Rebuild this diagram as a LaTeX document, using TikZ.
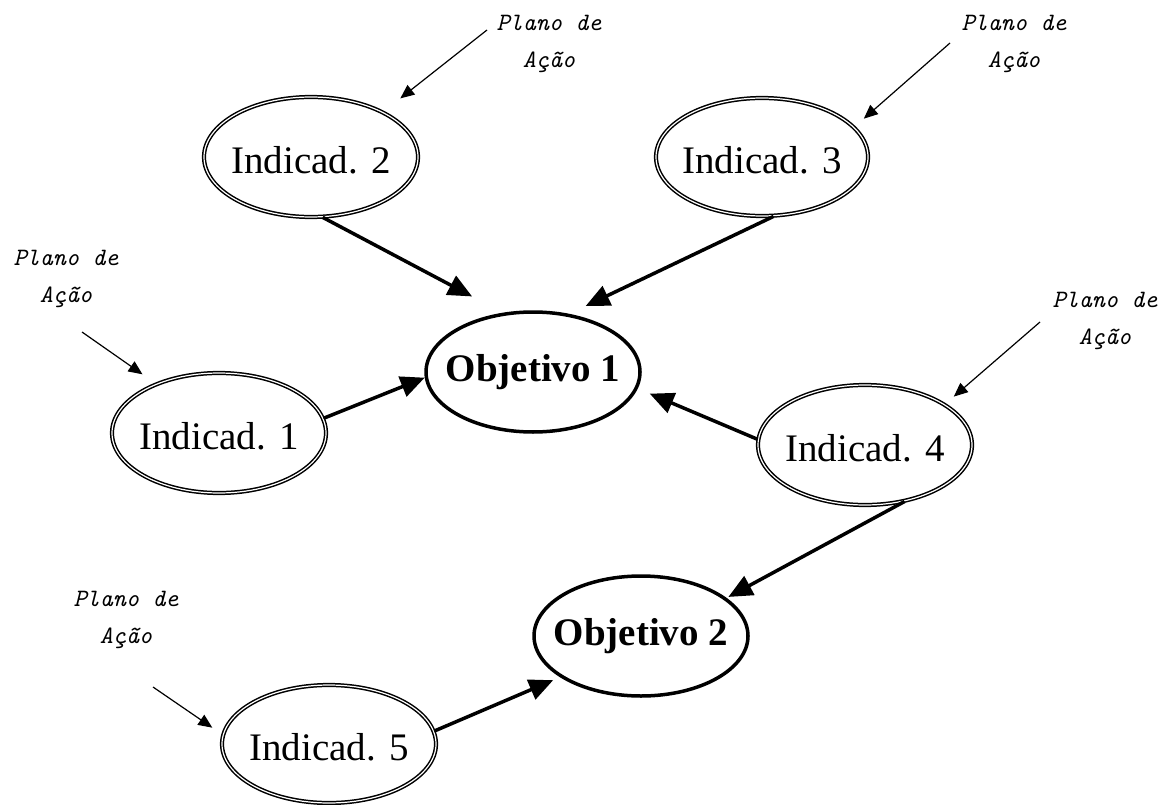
\documentclass[tikz,border=0pt]{standalone}
\usepackage{fontspec}
\setmainfont{Liberation Serif}
\usetikzlibrary{arrows.meta,shapes.geometric}
\begin{document}
\begin{tikzpicture}[x=1pt,y=-1pt,
  indic/.style={ellipse, draw, line width=1.5pt, double=white, double distance=1.2pt,
    inner sep=0pt, minimum width=214pt, minimum height=120pt},
  obj/.style={ellipse, draw, line width=3.5pt, inner sep=0pt,
    minimum width=214pt, minimum height=120pt},
  itext/.style={font=\fontsize{39}{44}\selectfont, inner sep=0pt},
  otext/.style={font=\fontsize{39}{44}\selectfont\bfseries, inner sep=0pt},
  plano/.style={align=center, inner sep=0pt,
    font=\fontsize{25}{37}\selectfont\ttfamily\itshape},
  big/.style={line width=3.5pt, -{Triangle[length=24pt,width=21pt]}},
  thin/.style={line width=1.2pt, -{Triangle[length=14pt,width=12pt]}}
]
\useasboundingbox (0,0) rectangle (1169,805);

% goals
\node[obj] (o1) at (533,372) {};
\node[otext] (o1t) at (o1) {Objetivo 1};
\node[obj] (o2) at (641,636) {};
\node[otext] (o2t) at (o2) {Objetivo 2};

% indicators
\node[indic] (i1) at (219,433) {};
\node[itext] (i1t) at ([yshift=-3pt]i1.center) {Indicad. 1};
\node[indic] (i2) at (311,157) {};
\node[itext] (i2t) at ([yshift=-3pt]i2.center) {Indicad. 2};
\node[indic, minimum width=212pt, minimum height=118pt] (i3) at (762,157) {};
\node[itext] (i3t) at ([yshift=-3pt]i3.center) {Indicad. 3};
\node[indic] (i4) at (865,445) {};
\node[itext] (i4t) at ([yshift=-3pt]i4.center) {Indicad. 4};
\node[indic, minimum height=118pt] (i5) at (329,744) {};
\node[itext] (i5t) at ([yshift=-3pt]i5.center) {Indicad. 5};

% action plan labels
\node[plano] (p1) at (66,279) {Plano de\\Ação};
\node[plano] (p2) at (549,44) {Plano de\\Ação};
\node[plano] (p3) at (1014,44) {Plano de\\Ação};
\node[plano] (p4) at (1105,321) {Plano de\\Ação};
\node[plano] (p5) at (126,620) {Plano de\\Ação};

\coordinate (p1s) at (82,332);
\coordinate (p2s) at (487,30);
\coordinate (p3s) at (950,43);
\coordinate (p4s) at (1040,322);
\coordinate (p5s) at (153,687);

% indicators feeding the goals
\draw[big] (i1.8) -- (o1.183);
\draw[big, shorten >=34.7pt] (i2.-79) -- (o1.117);
\draw[big, shorten >=18pt] (i3.-79) -- (o1.58);
\draw[big, shorten >=13pt] (i4.177) -- (o1.-9);
\draw[big, shorten >=2pt] (i4.-55) -- (o2.24);
\draw[big, shorten >=7.5pt] (i5.7.5) -- (o2.207);

% action plans pointing at the indicators
\draw[thin, shorten >=16.4pt] (p1s) -- (i1.142.8);
\draw[thin, shorten >=21.8pt] (p2s) -- (i2.32.4);
\draw[thin, shorten >=12.6pt] (p3s) -- (i3.18.8);
\draw[thin, shorten >=11.7pt] (p4s) -- (i4.27);
\draw[thin, shorten >=12.4pt] (p5s) -- (i5.175.1);
\end{tikzpicture}
\end{document}
